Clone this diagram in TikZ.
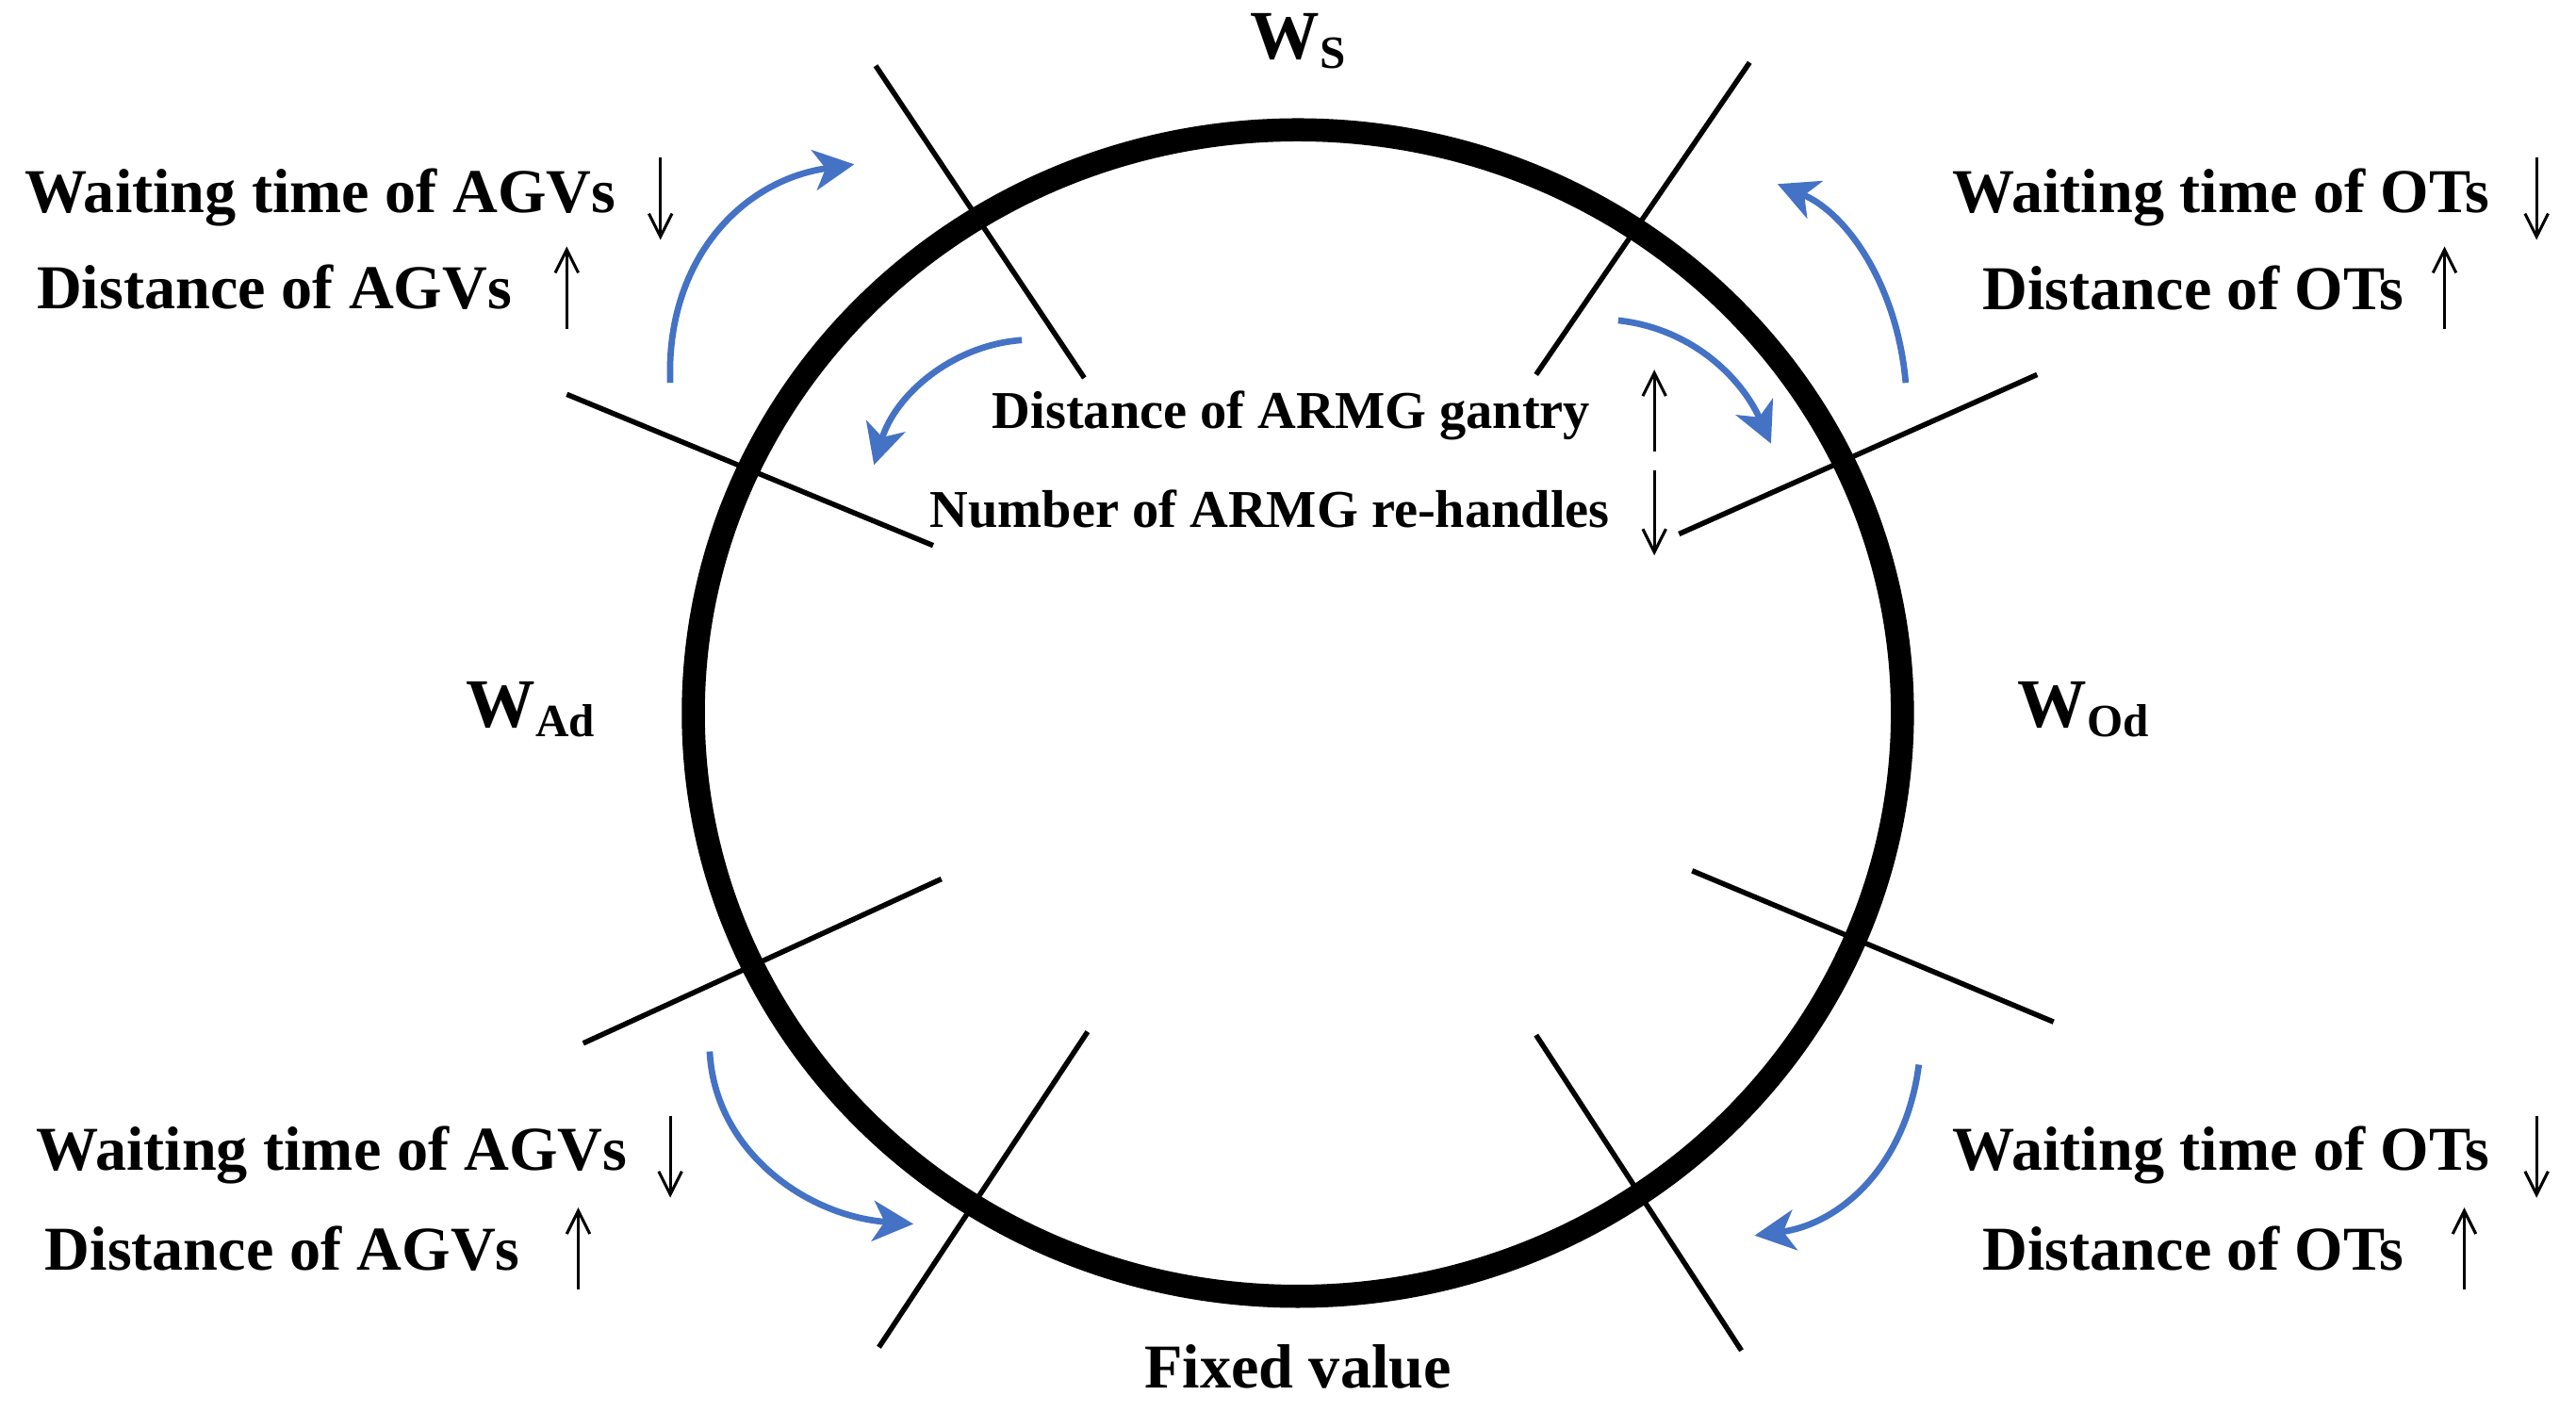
\documentclass[tikz,border=0pt]{standalone}
\usepackage{fontspec}
\setmainfont{Liberation Serif}
\usetikzlibrary{arrows.meta}
\definecolor{blu}{HTML}{4472C4}
\begin{document}
\begin{tikzpicture}[x=0.01cm,y=-0.01cm,
  lab/.style={font=\fontsize{10.8}{12}\selectfont\bfseries,inner sep=0pt},
  clab/.style={font=\fontsize{9.2}{11}\selectfont\bfseries,inner sep=0pt},
  wlab/.style={font=\fontsize{12}{14}\selectfont\bfseries,inner sep=0pt},
  tick/.style={line width=0.9pt},
  ba/.style={blu,line width=1.1pt,-{Stealth[length=7pt,width=7pt,inset=2pt]}},
  va/.style={line width=0.5pt,-{Straight Barb[length=4pt,width=4pt]}}]
\useasboundingbox (0,0) rectangle (1568,859);
\draw[line width=4pt] (790,434) ellipse [x radius=368,y radius=355];
% ticks
\draw[tick] (533,40)--(660,230);
\draw[tick] (1065,38)--(935,228);
\draw[tick] (345,240)--(568,332);
\draw[tick] (1240,228)--(1022,325);
\draw[tick] (573,535)--(355,635);
\draw[tick] (1030,530)--(1250,622);
\draw[tick] (662,628)--(535,820);
\draw[tick] (935,630)--(1060,822);
% blue arrows
\draw[ba] (408,233) .. controls (405,160) and (450,110) .. (520,100);
\draw[ba] (622,207) .. controls (580,210) and (545,240) .. (532,283);
\draw[ba] (985,195) .. controls (1030,200) and (1060,230) .. (1078,270);
\draw[ba] (1160,233) .. controls (1155,175) and (1125,130) .. (1082,112);
\draw[ba] (432,640) .. controls (435,700) and (490,740) .. (556,745);
\draw[ba] (1168,648) .. controls (1160,710) and (1120,745) .. (1068,752);
% labels
\node[wlab] (ws) at (790,25) {W\raisebox{-0.3ex}{\fontsize{8}{9}\selectfont S}};
\node[wlab] (wad) at (323,432) {W\raisebox{-0.3ex}{\fontsize{8}{9}\selectfont Ad}};
\node[wlab] (wod) at (1268,432) {W\raisebox{-0.3ex}{\fontsize{8}{9}\selectfont Od}};
\node[lab] (fv) at (790,832) {Fixed value};
\node[lab] (t1) at (195,120) {Waiting time of AGVs};
\node[lab] (t2) at (167,175) {Distance of AGVs};
\node[lab] (t3) at (1352,120) {Waiting time of OTs};
\node[lab] (t4) at (1335,175) {Distance of OTs};
\node[lab] (t5) at (202,703) {Waiting time of AGVs};
\node[lab] (t6) at (172,760) {Distance of AGVs};
\node[lab] (t7) at (1352,703) {Waiting time of OTs};
\node[lab] (t8) at (1335,760) {Distance of OTs};
\node[clab] (c1) at (786,253) {Distance of ARMG gantry};
\node[clab] (c2) at (773,310) {Number of ARMG re-handles};
% up/down arrows
\draw[va] (402,96)--(402,146);
\draw[va] (345,200)--(345,150);
\draw[va] (1544,96)--(1544,146);
\draw[va] (1488,200)--(1488,150);
\draw[va] (408,679)--(408,729);
\draw[va] (352,785)--(352,735);
\draw[va] (1544,679)--(1544,729);
\draw[va] (1500,785)--(1500,735);
\draw[va] (1007,275)--(1007,225);
\draw[va] (1007,286)--(1007,338);
\end{tikzpicture}
\end{document}
